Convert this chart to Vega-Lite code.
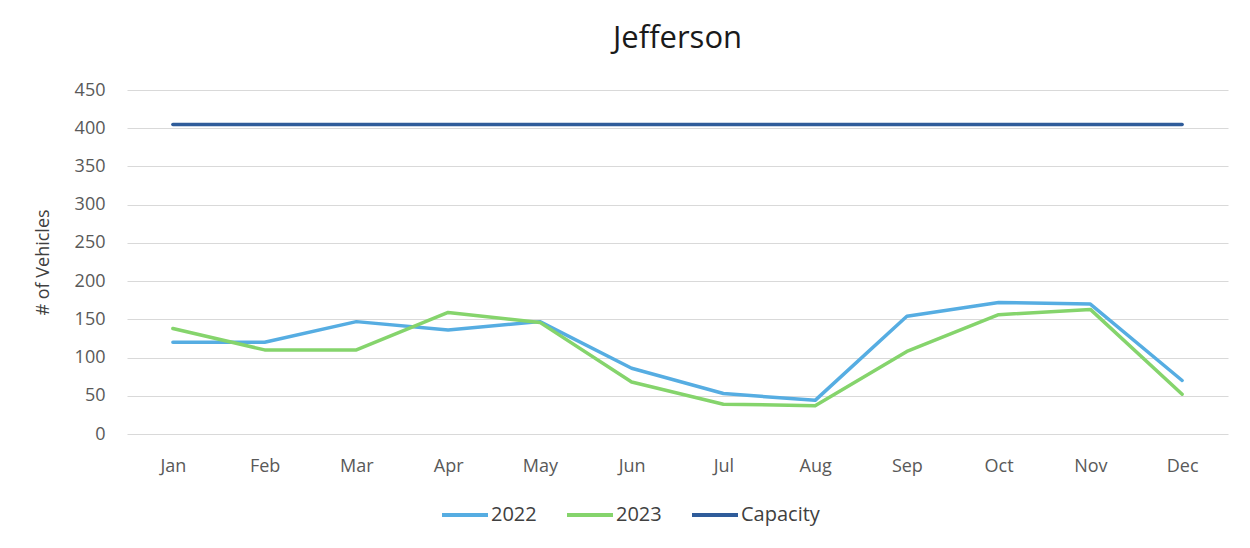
{
  "$schema": "https://vega.github.io/schema/vega-lite/v6.json",
  "width": 1101,
  "height": 344,
  "autosize": {"type": "none"},
  "padding": {"left": 127, "top": 90, "right": 22, "bottom": 114},
  "background": "white",
  "title": {
    "text": "Jefferson",
    "fontSize": 31,
    "font": "Open Sans",
    "fontWeight": 400,
    "color": "#1a1a1a",
    "anchor": "middle",
    "offset": 26
  },
  "data": {
    "values": [
      {"month": "Jan", "series": "2022", "value": 120},
      {"month": "Feb", "series": "2022", "value": 120},
      {"month": "Mar", "series": "2022", "value": 147},
      {"month": "Apr", "series": "2022", "value": 136},
      {"month": "May", "series": "2022", "value": 147},
      {"month": "Jun", "series": "2022", "value": 86},
      {"month": "Jul", "series": "2022", "value": 53},
      {"month": "Aug", "series": "2022", "value": 44},
      {"month": "Sep", "series": "2022", "value": 154},
      {"month": "Oct", "series": "2022", "value": 172},
      {"month": "Nov", "series": "2022", "value": 170},
      {"month": "Dec", "series": "2022", "value": 70},
      {"month": "Jan", "series": "2023", "value": 138},
      {"month": "Feb", "series": "2023", "value": 110},
      {"month": "Mar", "series": "2023", "value": 110},
      {"month": "Apr", "series": "2023", "value": 159},
      {"month": "May", "series": "2023", "value": 146},
      {"month": "Jun", "series": "2023", "value": 68},
      {"month": "Jul", "series": "2023", "value": 39},
      {"month": "Aug", "series": "2023", "value": 37},
      {"month": "Sep", "series": "2023", "value": 108},
      {"month": "Oct", "series": "2023", "value": 156},
      {"month": "Nov", "series": "2023", "value": 163},
      {"month": "Dec", "series": "2023", "value": 52},
      {"month": "Jan", "series": "Capacity", "value": 405},
      {"month": "Feb", "series": "Capacity", "value": 405},
      {"month": "Mar", "series": "Capacity", "value": 405},
      {"month": "Apr", "series": "Capacity", "value": 405},
      {"month": "May", "series": "Capacity", "value": 405},
      {"month": "Jun", "series": "Capacity", "value": 405},
      {"month": "Jul", "series": "Capacity", "value": 405},
      {"month": "Aug", "series": "Capacity", "value": 405},
      {"month": "Sep", "series": "Capacity", "value": 405},
      {"month": "Oct", "series": "Capacity", "value": 405},
      {"month": "Nov", "series": "Capacity", "value": 405},
      {"month": "Dec", "series": "Capacity", "value": 405}
    ]
  },
  "mark": {"type": "line", "strokeWidth": 3.5, "strokeCap": "round", "strokeJoin": "round"},
  "encoding": {
    "x": {
      "field": "month",
      "type": "ordinal",
      "sort": ["Jan","Feb","Mar","Apr","May","Jun","Jul","Aug","Sep","Oct","Nov","Dec"],
      "scale": {"type": "point", "padding": 0.5},
      "axis": {
        "title": null,
        "labelAngle": 0,
        "labelFontSize": 18,
        "labelFont": "Open Sans",
        "labelColor": "#595959",
        "labelPadding": 23,
        "ticks": false,
        "domain": false,
        "grid": false
      }
    },
    "y": {
      "field": "value",
      "type": "quantitative",
      "scale": {"domain": [0, 450], "nice": false},
      "axis": {
        "values": [0, 50, 100, 150, 200, 250, 300, 350, 400, 450],
        "title": "# of Vehicles",
        "titleFontSize": 18,
        "titleFont": "Open Sans",
        "titleFontWeight": 400,
        "titleColor": "#404040",
        "titlePadding": 22,
        "labelFontSize": 18,
        "labelFont": "Open Sans",
        "labelColor": "#595959",
        "labelPadding": 22,
        "ticks": false,
        "domain": false,
        "gridColor": "#D9D9D9",
        "gridWidth": 1.2
      }
    },
    "color": {
      "field": "series",
      "type": "nominal",
      "scale": {"domain": ["2022", "2023", "Capacity"], "range": ["#56ADE2", "#85D46C", "#2F5C9A"]},
      "legend": {
        "title": null,
        "orient": "none",
        "direction": "horizontal",
        "legendX": 313,
        "legendY": 400,
        "symbolType": "stroke",
        "symbolSize": 2116,
        "symbolStrokeWidth": 4,
        "labelFontSize": 20,
        "labelFont": "Open Sans",
        "labelColor": "#404040",
        "labelOffset": 1,
        "columnPadding": 22
      }
    }
  },
  "config": {"view": {"stroke": null}}
}
